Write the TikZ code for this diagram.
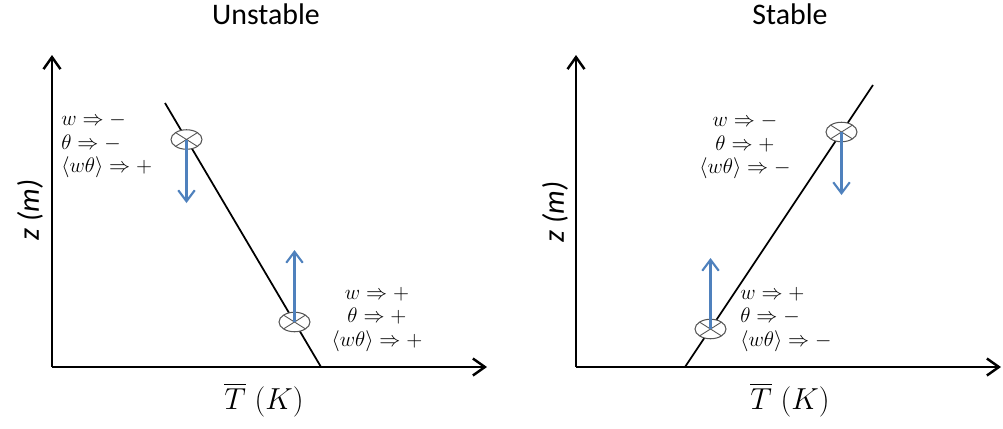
\documentclass[tikz,border=0pt]{standalone}
\usepackage{amsmath,amssymb}
\usepackage{fontspec}
\setsansfont{Carlito}
\definecolor{stbBlue}{RGB}{79, 129, 189}
\definecolor{stbGrey}{RGB}{85, 85, 85}
\usetikzlibrary{
  arrows.meta,
  shapes.geometric,
}

\begin{document}
\begin{tikzpicture}[
  axis/.style   ={-{Straight Barb[length=2.4mm, width=3.4mm]}, line width=1.4pt},
  profile/.style={line width=1pt},
  parcel/.style ={ellipse, draw=stbGrey, line width=0.6pt, fill=white,
                  minimum width=6.2mm, minimum height=3.9mm, inner sep=0pt,
                  path picture={\draw[stbGrey, line width=0.5pt]
                    (path picture bounding box.north west) -- (path picture bounding box.south east)
                    (path picture bounding box.north east) -- (path picture bounding box.south west);}},
  flow/.style   ={-{Straight Barb[length=2.2mm, width=3.3mm]}, color=stbBlue, line width=1.2pt},
  sign/.style   ={font=\fontsize{12.5}{13.4}\selectfont, inner sep=0pt},
  ttl/.style    ={font=\sffamily\fontsize{17}{20}\selectfont},
  zlbl/.style   ={font=\sffamily\itshape\fontsize{17}{19}\selectfont, rotate=90},
  tlbl/.style   ={font=\fontsize{16.5}{19}\selectfont},
]
  \useasboundingbox (0,0) rectangle (20.06,8.56);

  % Unstable profile
  \node[ttl] (ttlU) at (5.32,8.28) {Unstable};
  \coordinate (O1) at (1.04,1.22);
  \coordinate (Y1) at (1.04,7.46);
  \coordinate (X1) at (9.74,1.22);
  \draw[axis] (O1) -- (Y1);
  \draw[axis] (O1) -- (X1);
  \node[zlbl] (zU) at (0.60,4.36) {z (m)};
  \node[tlbl] (tU) at (5.28,0.56) {$\overline{T}\ (K)$};

  \coordinate (U1) at (3.30,6.50);
  \coordinate (U2) at (6.42,1.22);
  \draw[profile] (U1) -- (U2);

  \node[parcel] (pU1) at (3.73,5.77) {};
  \coordinate (pU1tip) at (3.73,4.50);
  \draw[flow] (pU1.center) -- (pU1tip);
  \node[parcel] (pU2) at (5.89,2.12) {};
  \coordinate (pU2tip) at (5.89,3.56);
  \draw[flow] (pU2.center) -- (pU2tip);

  \node[sign, anchor=west, align=left] (sU1) at (1.22,5.65)
    {$w \Rightarrow -$\\ $\theta \Rightarrow -$\\ $\langle w\theta\rangle \Rightarrow +$};
  \node[sign, align=center] (sU2) at (7.54,2.17)
    {$w \Rightarrow +$\\ $\theta \Rightarrow +$\\ $\langle w\theta\rangle \Rightarrow +$};

  % Stable profile
  \node[ttl] (ttlS) at (15.80,8.28) {Stable};
  \coordinate (O2) at (11.52,1.22);
  \coordinate (Y2) at (11.52,7.46);
  \coordinate (X2) at (20.02,1.22);
  \draw[axis] (O2) -- (Y2);
  \draw[axis] (O2) -- (X2);
  \node[zlbl] (zS) at (11.10,4.32) {z (m)};
  \node[tlbl] (tS) at (15.80,0.56) {$\overline{T}\ (K)$};

  \coordinate (S1) at (13.70,1.22);
  \coordinate (S2) at (17.46,6.86);
  \draw[profile] (S1) -- (S2);

  \node[parcel] (pS1) at (16.83,5.92) {};
  \coordinate (pS1tip) at (16.83,4.66);
  \draw[flow] (pS1.center) -- (pS1tip);
  \node[parcel] (pS2) at (14.21,1.98) {};
  \coordinate (pS2tip) at (14.21,3.40);
  \draw[flow] (pS2.center) -- (pS2tip);

  \node[sign, align=center] (sS1) at (14.90,5.63)
    {$w \Rightarrow -$\\ $\theta \Rightarrow +$\\ $\langle w\theta\rangle \Rightarrow -$};
  \node[sign, anchor=west, align=left] (sS2) at (14.80,2.17)
    {$w \Rightarrow +$\\ $\theta \Rightarrow -$\\ $\langle w\theta\rangle \Rightarrow -$};
\end{tikzpicture}
\end{document}
